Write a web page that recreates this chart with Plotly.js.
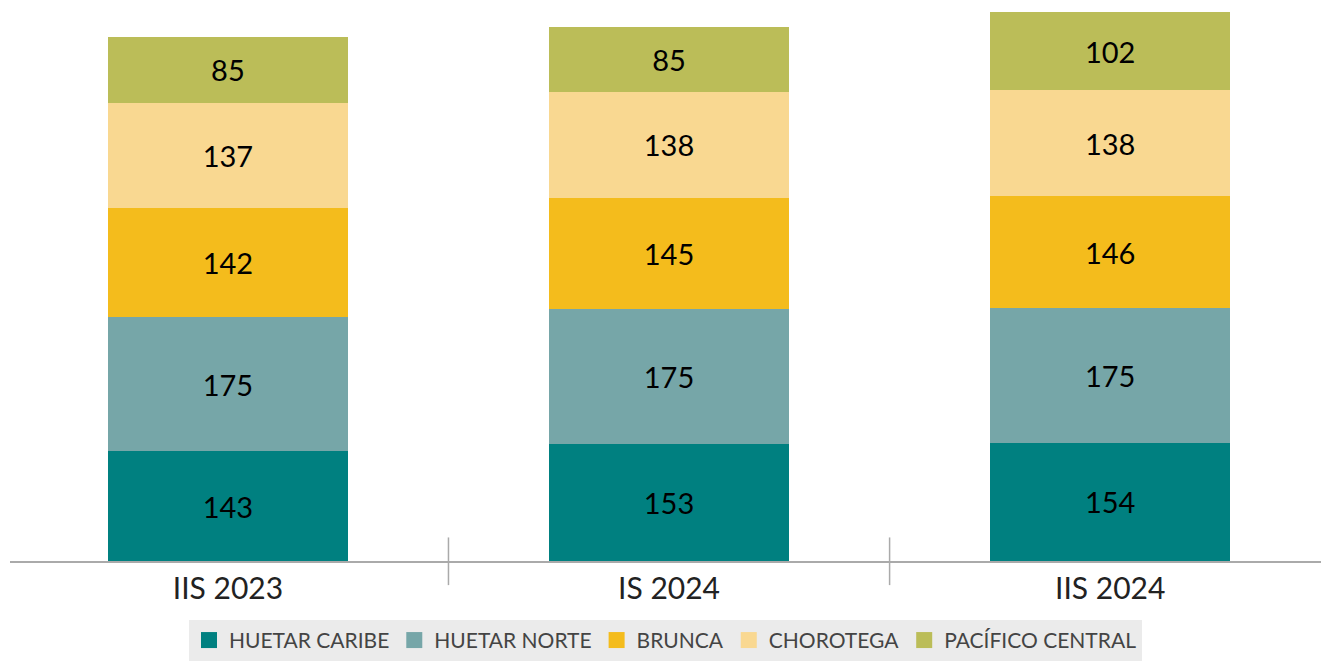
<!DOCTYPE html>
<html><head><meta charset="utf-8">
<script src="https://cdn.plot.ly/plotly-3.0.1.min.js"></script>
<style>html,body{margin:0;padding:0;background:#fff}#chart{width:1321px;height:661px}</style>
</head><body><div id="chart"></div>
<script>
const categories = ['IIS 2023', 'IS 2024', 'IIS 2024'];
const huetarCaribe = [143, 153, 154];
const huetarNorte = [175, 175, 175];
const brunca = [142, 145, 146];
const chorotega = [137, 138, 138];
const pacificoCentral = [85, 85, 102];
const seriesNames = ['HUETAR CARIBE', 'HUETAR NORTE', 'BRUNCA', 'CHOROTEGA', 'PACÍFICO CENTRAL'];
const seriesValues = [huetarCaribe, huetarNorte, brunca, chorotega, pacificoCentral];
const colors = ['#008080', '#76a6a8', '#f4bc1c', '#f9d891', '#bbbd58'];

const traces = seriesValues.map((v, i) => ({
  type: 'bar', x: categories, y: v, name: seriesNames[i], showlegend: false,
  marker: {color: colors[i], line: {width: 0}},
  text: v.map(String), textposition: 'inside', insidetextanchor: 'middle',
  textfont: {family: 'Lato, sans-serif', size: 29, color: '#000'},
  hoverinfo: 'none'
}));
const legendTraces = seriesNames.map((n, i) => ({
  type: 'scatter', mode: 'markers', x: [null], y: [null], name: n, showlegend: true,
  marker: {symbol: 'square', size: 22, color: colors[i], line: {width: 0}}, hoverinfo: 'none'
}));

const layout = {
  width: 1321, height: 661,
  margin: {l: 10, r: 0, t: 0, b: 98},
  barmode: 'stack', bargap: 0.456,
  paper_bgcolor: '#fff', plot_bgcolor: '#fff',
  showlegend: true,
  legend: {orientation: 'h', x: 0.5, xanchor: 'center', y: -0.105, yanchor: 'top',
    bgcolor: '#ebebeb', font: {family: 'Lato, sans-serif', size: 21, color: '#444'},
    traceorder: 'normal', itemclick: false, itemsizing: 'trace', itemwidth: 30, tracegroupgap: 0},
  xaxis: {type: 'category', range: [-0.494, 2.478], showgrid: false, zeroline: false,
    showline: true, linecolor: '#aaaaaa', linewidth: 1.5, ticks: '',
    tickfont: {family: 'Lato, sans-serif', size: 30, color: '#222'}, fixedrange: true},
  yaxis: {range: [0, 730.6], visible: false, showgrid: false, zeroline: false, fixedrange: true},
  shapes: [0.5, 1.5].map(xv => ({type: 'line', xref: 'x', yref: 'paper', x0: xv, x1: xv,
    y0: 0.042, y1: -0.043, line: {color: '#aaaaaa', width: 1.5}})),
  font: {family: 'Lato, sans-serif'}
};
Plotly.newPlot('chart', traces.concat(legendTraces), layout, {displayModeBar: false, staticPlot: true});
</script></body></html>
